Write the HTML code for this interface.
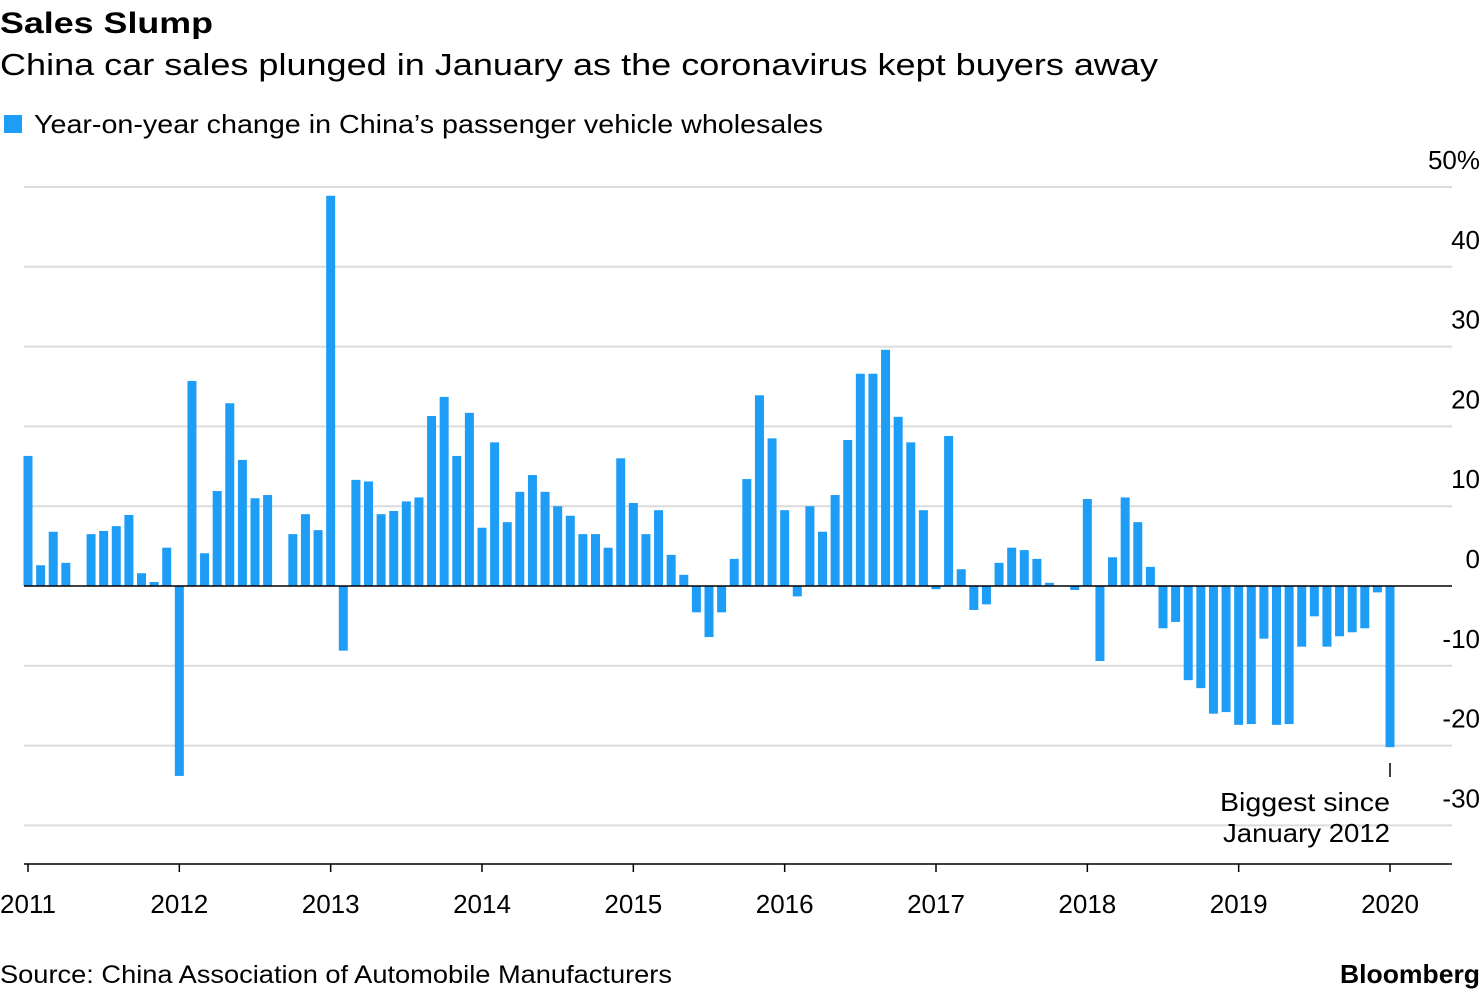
<!DOCTYPE html>
<html><head><meta charset="utf-8"><style>
body{margin:0;background:#fff;font-family:"Liberation Sans",sans-serif;}
svg{display:block}
</style></head><body>
<svg width="1480" height="990" id="c">
<text x="0" y="33" font-size="30" font-weight="bold" fill="#000" textLength="213" lengthAdjust="spacingAndGlyphs">Sales Slump</text>
<text x="0" y="75" font-size="31" fill="#000" textLength="1158" lengthAdjust="spacingAndGlyphs">China car sales plunged in January as the coronavirus kept buyers away</text>
<rect x="4" y="115" width="18" height="18" fill="#1e9df7"/>
<text x="34" y="133" font-size="26" fill="#000" textLength="789" lengthAdjust="spacingAndGlyphs">Year-on-year change in China’s passenger vehicle wholesales</text>
<g id="grid"></g><g id="bars"></g><g id="axis"></g>
<line x1="1390" y1="763" x2="1390" y2="777" stroke="#000" stroke-width="1.5"/>
<text x="1390" y="811" font-size="26" text-anchor="end" textLength="170" lengthAdjust="spacingAndGlyphs">Biggest since</text>
<text x="1390" y="842" font-size="26" text-anchor="end" textLength="167" lengthAdjust="spacingAndGlyphs">January 2012</text>
<text x="0" y="983" font-size="25" textLength="672" lengthAdjust="spacingAndGlyphs">Source: China Association of Automobile Manufacturers</text>
<text x="1480" y="983" font-size="26" font-weight="bold" text-anchor="end" textLength="140" lengthAdjust="spacingAndGlyphs">Bloomberg</text>
</svg>
<script>
const values2011=[16.3,2.6,6.8,2.9,0,6.5,6.9,7.5,8.9,1.6,0.5,4.8];
const values2012=[-23.8,25.7,4.1,11.9,22.9,15.8,11.0,11.4,0,6.5,9.0,7.0];
const values2013=[48.9,-8.1,13.3,13.1,9.0,9.4,10.6,11.1,21.3,23.7,16.3,21.7];
const values2014=[7.3,18.0,8.0,11.8,13.9,11.8,10.0,8.8,6.5,6.5,4.8,16.0];
const values2015=[10.4,6.5,9.5,3.9,1.4,-3.3,-6.4,-3.3,3.4,13.4,23.9,18.5];
const values2016=[9.5,-1.3,10.0,6.8,11.4,18.3,26.6,26.6,29.6,21.2,18.0,9.5];
const values2017=[-0.4,18.8,2.1,-3.0,-2.3,2.9,4.8,4.5,3.4,0.4,0,-0.5];
const values2018=[10.9,-9.4,3.6,11.1,8.0,2.4,-5.3,-4.5,-11.8,-12.8,-16.0,-15.8];
const values2019=[-17.4,-17.3,-6.6,-17.4,-17.3,-7.6,-3.8,-7.6,-6.3,-5.8,-5.3,-0.8];
const values2020=[-20.2];
const yTicks=[50,40,30,20,10,0,-10,-20,-30];
const yTickLabels=["50%","40","30","20","10","0","-10","-20","-30"];
const xYears=["2011","2012","2013","2014","2015","2016","2017","2018","2019","2020"];
const values=[].concat(values2011,values2012,values2013,values2014,values2015,values2016,values2017,values2018,values2019,values2020);
const NS="http://www.w3.org/2000/svg";
const x=i=>28+i*(1362/108);
const y=v=>586-v*7.98;
const g=document.getElementById('grid'),b=document.getElementById('bars'),a=document.getElementById('axis');
function mk(tag,at,p){const e=document.createElementNS(NS,tag);for(const k in at)e.setAttribute(k,at[k]);p.appendChild(e);return e;}
yTicks.forEach((t,i)=>{
 if(t!==0){const l=mk('line',{x1:24,x2:1452,y1:y(t),y2:y(t),stroke:'#dcdcdc','stroke-width':2},g);
 
 }
 const tx=mk('text',{x:1480,y:y(t)-18,'font-size':26,'text-anchor':'end'},g);
 tx.textContent=yTickLabels[i];
 
 
});
values.forEach((v,i)=>{
 const r=mk('rect',{x:x(i)-4.5,width:9,y:Math.min(y(v),586),height:Math.abs(y(v)-586),fill:'#1e9df7'},b);
 
 
});
const z=mk('line',{x1:24,x2:1452,y1:586,y2:586,stroke:'#000','stroke-width':1.5},a);


const xl=mk('line',{x1:24,x2:1452,y1:864,y2:864,stroke:'#000','stroke-width':1.5},a);


xYears.forEach((yr,i)=>{
 const px=x(i*12);
 const tk=mk('line',{x1:px,x2:px,y1:864,y2:872,stroke:'#000','stroke-width':1.5},a);
 
 
 const t=mk('text',{x:px,y:913,'font-size':26,'text-anchor':'middle'},a);
 t.textContent=yr;
 
 
});
</script>
</body></html>
